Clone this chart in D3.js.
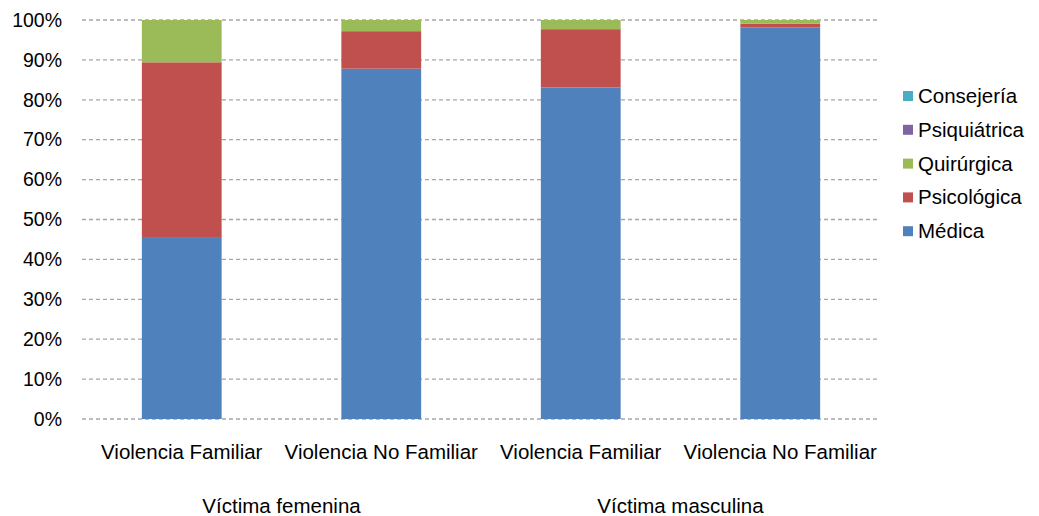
<!DOCTYPE html>
<html>
<head>
<meta charset="utf-8">
<script src="https://cdn.jsdelivr.net/npm/d3@7"></script>
<style>
  body { margin: 0; background: #fff; }
  svg text { font-family: "Liberation Sans", Arial, sans-serif; fill: #000; }
</style>
</head>
<body>
<svg id="chart" width="1039" height="516"></svg>
<script>
// Categories (violence type) grouped by victim sex
const categories = ["Violencia Familiar", "Violencia No Familiar", "Violencia Familiar", "Violencia No Familiar"];
const groups = ["Víctima femenina", "Víctima masculina"];
const seriesNames = ["Médica", "Psicológica", "Quirúrgica", "Psiquiátrica", "Consejería"];
const seriesColors = ["#4F81BD", "#C0504D", "#9BBB59", "#8064A2", "#4BACC6"];

// Percent share per category, one array per series
const medica       = [45.6, 87.8, 83.1, 98.1];
const psicologica  = [43.8, 9.4, 14.6, 1.0];
const quirurgica   = [10.6, 2.8, 2.3, 0.9];
const psiquiatrica = [0, 0, 0, 0];
const consejeria   = [0, 0, 0, 0];
const yTicks = [0, 10, 20, 30, 40, 50, 60, 70, 80, 90, 100];

const seriesValues = [medica, psicologica, quirurgica, psiquiatrica, consejeria];

const svg = d3.select("#chart");
const margin = { left: 82, right: 159, top: 20, bottom: 97 };
const width = 1039 - margin.left - margin.right;
const height = 516 - margin.top - margin.bottom;
const fontSize = "20.5px";

const g = svg.append("g").attr("transform", `translate(${margin.left},${margin.top})`);

const idx = d3.range(categories.length);
const x = d3.scaleBand().domain(idx).range([0, width]).paddingInner(0.6).paddingOuter(0.3);
const y = d3.scaleLinear().domain([0, 100]).range([height, 0]);

// Dashed gridlines
g.append("g").selectAll("line").data(yTicks).join("line")
  .attr("x1", 0).attr("x2", width)
  .attr("y1", d => y(d)).attr("y2", d => y(d))
  .attr("stroke", "#a6a6a6").attr("stroke-width", 1.3)
  .attr("stroke-dasharray", "4,3");

// Y axis labels
const yAxis = d3.axisLeft(y).tickValues(yTicks).tickFormat(d => d + "%").tickSize(0).tickPadding(20);
const ya = g.append("g").call(yAxis);
ya.select(".domain").remove();
ya.selectAll("text").style("font-size", "19.5px").style("font-family", "Liberation Sans, Arial, sans-serif").attr("fill", "#000");

// Stack data
const rows = idx.map(i => {
  const r = { i };
  seriesNames.forEach((s, k) => r[s] = seriesValues[k][i]);
  return r;
});
const stacked = d3.stack().keys(seriesNames)(rows);

g.append("g").selectAll("g").data(stacked).join("g")
  .attr("fill", (d, k) => seriesColors[k])
  .selectAll("rect").data(d => d).join("rect")
  .attr("x", d => x(d.data.i))
  .attr("width", x.bandwidth())
  .attr("y", d => y(d[1]))
  .attr("height", d => Math.max(0, y(d[0]) - y(d[1])));

// Category labels
g.append("g").selectAll("text").data(idx).join("text")
  .attr("x", i => x(i) + x.bandwidth() / 2)
  .attr("y", height + 40)
  .attr("text-anchor", "middle")
  .style("font-size", fontSize)
  .text(i => categories[i]);

// Group labels
g.append("g").selectAll("text").data(groups).join("text")
  .attr("x", (d, k) => (x(2 * k) + x(2 * k + 1) + x.bandwidth()) / 2)
  .attr("y", height + 94)
  .attr("text-anchor", "middle")
  .style("font-size", fontSize)
  .text(d => d);

// Legend (reverse order, top is last series)
const legendItems = seriesNames.map((s, k) => ({ s, c: seriesColors[k] })).reverse();
const legend = svg.append("g").attr("transform", "translate(903, 96)");
const li = legend.selectAll("g").data(legendItems).join("g")
  .attr("transform", (d, k) => `translate(0, ${k * 33.8})`);
li.append("rect").attr("x", 0).attr("y", -5).attr("width", 10).attr("height", 10).attr("fill", d => d.c);
li.append("text").attr("x", 15).attr("y", 7).style("font-size", fontSize).text(d => d.s);
</script>
</body>
</html>
